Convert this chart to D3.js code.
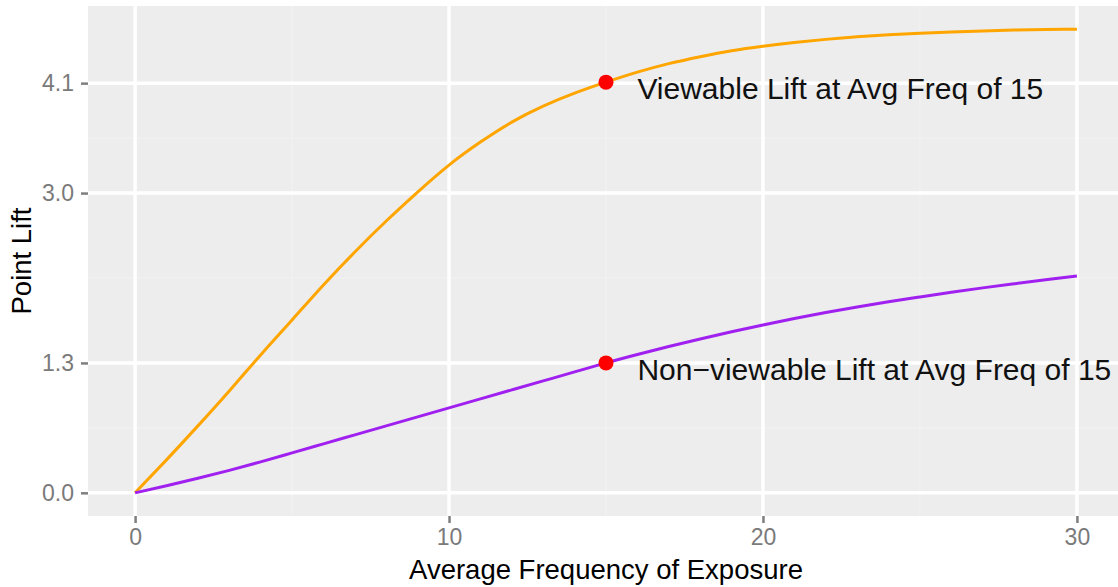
<!doctype html>
<html lang="en">
<head>
	<meta charset="UTF-8">
	<title>Point Lift by Average Frequency</title>
	<style>
		body { margin: 0; background: #fff; }
		svg text { font-family: "Liberation Sans", Arial, sans-serif; }
	</style>
</head>
<body>
	<div id="chart"></div>

	<script src="https://cdnjs.cloudflare.com/ajax/libs/d3/7.8.5/d3.min.js"></script>
	<script>
		// values
		var freq = [0, 1, 2, 3, 4, 5, 6, 7, 8, 9, 10, 11, 12, 13, 14, 15, 16, 17, 18, 19, 20, 21, 22, 23, 24, 25, 26, 27, 28, 29, 30];
		var viewable = [0, 0.33, 0.67, 1.02, 1.38, 1.73, 2.08, 2.41, 2.72, 3.01, 3.28, 3.51, 3.71, 3.87, 4.00, 4.11, 4.21, 4.295, 4.365, 4.425, 4.47, 4.507, 4.538, 4.564, 4.584, 4.60, 4.613, 4.623, 4.631, 4.637, 4.64];
		var nonViewable = [0, 0.07, 0.145, 0.225, 0.31, 0.40, 0.49, 0.58, 0.67, 0.76, 0.85, 0.94, 1.03, 1.12, 1.21, 1.30, 1.384, 1.464, 1.54, 1.612, 1.68, 1.744, 1.804, 1.86, 1.912, 1.96, 2.007, 2.051, 2.092, 2.132, 2.17];

		var xTicks = [0, 10, 20, 30],
			yTicks = [0, 1.3, 3.0, 4.1],
			xMinor = [5, 15, 25],
			yMinor = [0.65, 2.15, 3.55];

		var highlightX = 15;
		var labels = ['Viewable Lift at Avg Freq of 15', 'Non\u2212viewable Lift at Avg Freq of 15'];

		var w = 1118,
			h = 587,
			panel = { left: 88, right: 1124, top: 6, bottom: 516 };

		var x = d3.scaleLinear()
			.domain([-1.5, 31.5])
			.range([panel.left, panel.right]);

		var y = d3.scaleLinear()
			.domain([-0.232, 4.872])
			.range([panel.bottom, panel.top]);

		var svg = d3.select('#chart')
			.append('svg')
			.attr('width', w)
			.attr('height', h);

		// panel background
		svg.append('rect')
			.attr('x', panel.left)
			.attr('y', panel.top)
			.attr('width', panel.right - panel.left)
			.attr('height', panel.bottom - panel.top)
			.attr('fill', '#ededed');

		// minor grid
		svg.selectAll('line.xminor')
			.data(xMinor)
			.enter()
			.append('line')
			.attr('class', 'xminor')
			.attr('x1', function(d) { return x(d); })
			.attr('x2', function(d) { return x(d); })
			.attr('y1', panel.top)
			.attr('y2', panel.bottom)
			.attr('stroke', '#f1f1f1')
			.attr('stroke-width', 1.5);

		svg.selectAll('line.yminor')
			.data(yMinor)
			.enter()
			.append('line')
			.attr('class', 'yminor')
			.attr('x1', panel.left)
			.attr('x2', panel.right)
			.attr('y1', function(d) { return y(d); })
			.attr('y2', function(d) { return y(d); })
			.attr('stroke', '#f1f1f1')
			.attr('stroke-width', 1.5);

		// major grid
		svg.selectAll('line.xgrid')
			.data(xTicks)
			.enter()
			.append('line')
			.attr('class', 'xgrid')
			.attr('x1', function(d) { return x(d); })
			.attr('x2', function(d) { return x(d); })
			.attr('y1', panel.top)
			.attr('y2', panel.bottom)
			.attr('stroke', '#fff')
			.attr('stroke-width', 3.5);

		svg.selectAll('line.ygrid')
			.data(yTicks)
			.enter()
			.append('line')
			.attr('class', 'ygrid')
			.attr('x1', panel.left)
			.attr('x2', panel.right)
			.attr('y1', function(d) { return y(d); })
			.attr('y2', function(d) { return y(d); })
			.attr('stroke', '#fff')
			.attr('stroke-width', 3.5);

		// axes
		var xAxis = d3.axisBottom(x)
			.tickValues(xTicks)
			.tickFormat(d3.format('d'))
			.tickSize(7)
			.tickPadding(6);

		var yAxis = d3.axisLeft(y)
			.tickValues(yTicks)
			.tickFormat(d3.format('.1f'))
			.tickSize(7)
			.tickPadding(7);

		var gx = svg.append('g')
			.attr('transform', 'translate(0,' + panel.bottom + ')')
			.call(xAxis);

		var gy = svg.append('g')
			.attr('transform', 'translate(' + panel.left + ',0)')
			.call(yAxis);

		[gx, gy].forEach(function(g) {
			g.select('.domain').remove();
			g.selectAll('.tick line')
				.attr('stroke', '#7f7f7f')
				.attr('stroke-width', 2.5);
			g.selectAll('.tick text')
				.attr('fill', '#7a7a7a')
				.style('font-size', '23px');
		});

		// lines
		var line = d3.line()
			.x(function(d) { return x(d[0]); })
			.y(function(d) { return y(d[1]); })
			.curve(d3.curveNatural);

		var series = [
			{ values: viewable, color: '#ffa500' },
			{ values: nonViewable, color: '#a020f0' }
		];

		svg.selectAll('path.series')
			.data(series)
			.enter()
			.append('path')
			.attr('class', 'series')
			.attr('fill', 'none')
			.attr('stroke', function(d) { return d.color; })
			.attr('stroke-width', 3)
			.attr('d', function(d) {
				return line(freq.map(function(f, i) { return [f, d.values[i]]; }));
			});

		// highlighted points
		var hi = freq.indexOf(highlightX);
		var points = [viewable[hi], nonViewable[hi]];

		svg.selectAll('circle.pt')
			.data(points)
			.enter()
			.append('circle')
			.attr('class', 'pt')
			.attr('cx', x(highlightX))
			.attr('cy', function(d) { return y(d); })
			.attr('r', 7.5)
			.attr('fill', '#ff0000');

		svg.selectAll('text.note')
			.data(points)
			.enter()
			.append('text')
			.attr('class', 'note')
			.attr('x', x(16))
			.attr('y', function(d) { return y(d) + 17; })
			.attr('fill', '#111')
			.style('font-size', '30px')
			.text(function(d, i) { return labels[i]; });

		// axis titles
		svg.append('text')
			.attr('x', (panel.left + panel.right) / 2)
			.attr('y', 579)
			.attr('text-anchor', 'middle')
			.attr('fill', '#000')
			.style('font-size', '27.5px')
			.text('Average Frequency of Exposure');

		svg.append('text')
			.attr('transform', 'translate(31,' + (panel.top + panel.bottom) / 2 + ') rotate(-90)')
			.attr('text-anchor', 'middle')
			.attr('fill', '#000')
			.style('font-size', '27.5px')
			.text('Point Lift');
	</script>
</body>
</html>
